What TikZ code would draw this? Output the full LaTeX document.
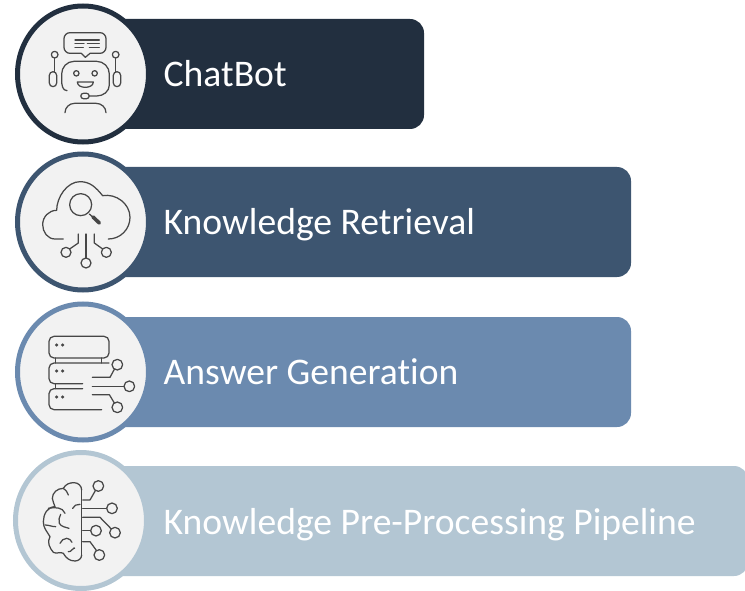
\documentclass[tikz,border=0pt]{standalone}
\usepackage{fontspec}
\setmainfont{Carlito}[Ligatures=NoCommon]
\usetikzlibrary{shapes.geometric}
\definecolor{cA}{HTML}{222F3F}
\definecolor{cB}{HTML}{3D5570}
\definecolor{cC}{HTML}{6B8AAF}
\definecolor{cD}{HTML}{B3C6D3}
\definecolor{iconc}{HTML}{474747}
\tikzset{
  bar/.style={rounded corners=14pt},
  disc/.style={ellipse,draw=#1,fill=black!5,line width=5pt,minimum width=131pt,minimum height=136pt,inner sep=0pt},
  lbl/.style={anchor=base west,text=white,font=\fontsize{37.6pt}{42pt}\selectfont,inner sep=0pt},
  ico/.style={x=0.33333pt,y=-0.33333pt,draw=iconc,line width=1.25pt,line cap=round,line join=round},
  dot/.style={fill=iconc,draw=none}
}
\begin{document}
\begin{tikzpicture}[x=1pt,y=-1pt]
\useasboundingbox (0,0) rectangle (745,591);
\clip (0,0) rectangle (745,591);
% bars
\fill[cA,bar] (80,19) rectangle (424,129);
\fill[cB,bar] (80,167) rectangle (631,277);
\fill[cC,bar] (80,317) rectangle (631,427);
\fill[cD,bar] (80,466) rectangle (748,576);
% discs
\node[disc=cA] (d1) at (83,74) {};
\node[disc=cB] (d2) at (83,222) {};
\node[disc=cC] (d3) at (83,372) {};
\node[disc=cD] (d4) at (81,520.5) {};
% labels
\node[lbl] (t1) at (163.5,87) {ChatBot};
\node[lbl] (t2) at (163.5,234) {Knowledge Retrieval};
\node[lbl] (t3) at (163.5,384) {Answer Generation};
\node[lbl] (t4) at (163.5,534.5) {Knowledge Pre-Processing Pipeline};
% icon 1: robot
\begin{scope}[ico]
\draw (210,98) -- (300,98) to[out=0,in=90] (318,116) -- (318,142) to[out=-90,in=0] (300,160) -- (270,160) -- (256,172) -- (244,160) -- (210,160) to[out=180,in=-90] (192,142) -- (192,116) to[out=90,in=180] (210,98);
\draw (225,120) -- (298,120) (225,131) -- (252,131) (262,131) -- (298,131) (225,142) -- (250,142) (268,142) -- (298,142);
\draw (164,164) circle[radius=10];
\draw (164,174) -- (164,215);
\draw (159,215) to[out=0,in=90] (170,226) -- (170,249) to[out=-90,in=0] (159,260) to[out=180,in=-90] (148,249) -- (148,226) to[out=90,in=180] (159,215);
\draw (347,164) circle[radius=10];
\draw (347,174) -- (347,215);
\draw (351,215) to[out=0,in=90] (362,226) -- (362,249) to[out=-90,in=0] (351,260) to[out=180,in=-90] (340,249) -- (340,226) to[out=90,in=180] (351,215);
\draw (201,272) to[out=180,in=-90] (185,240) -- (185,222) to[out=90,in=180] (222,184) -- (290,184) to[out=0,in=90] (328,222) -- (328,255) to[out=-90,in=0] (290,288) -- (268,288);
\draw (250,280) -- (260,280) to[out=0,in=0,looseness=1.6] (260,296) -- (250,296) to[out=180,in=180,looseness=1.6] (250,280);
\draw (229,220) circle[radius=8];
\draw (284,220) circle[radius=8];
\draw (232,246) -- (280,246) to[out=-90,in=0] (256,262) to[out=180,in=-90] (232,246);
\draw (195,338) to[out=90,in=180] (224,310) -- (288,310) to[out=0,in=90] (318,338);
\end{scope}
% icon 2: cloud
\begin{scope}[shift={(0,148)},ico]
\draw (190,273) -- (165,273) to[out=180,in=-90] (128,230) to[out=90,in=180] (170,187) to[out=90,in=180,looseness=.9] (240,101) to[out=0,in=130] (308,143) to[out=10,in=90] (390,208) to[out=-90,in=0] (325,273);
\draw (242,170) circle[radius=33];
\draw (268,198) -- (278,207);
\draw[line width=3.6pt] (279,207) -- (298,225);
\draw (258,258) -- (258,331);
\draw (258,345) circle[radius=15];
\draw (235,258) -- (235,285) -- (209,303);
\draw (198,313) circle[radius=15];
\draw (283,258) -- (283,285) -- (308,303);
\draw (319,313) circle[radius=15];
\end{scope}
% icon 3: servers
\begin{scope}[shift={(0,298)},ico]
\draw[rounded corners=5pt] (147,115) rectangle (327,180);
\fill[dot] (170,141) circle[radius=5] (188,141) circle[radius=5] (170,219) circle[radius=5] (188,219) circle[radius=5] (170,297) circle[radius=5] (188,297) circle[radius=5];
\draw (167,180) -- (167,195) (305,180) -- (305,195);
\draw[rounded corners=5pt] (327,195) -- (147,195) -- (147,257) -- (248,257);
\draw (167,257) -- (167,272);
\draw[rounded corners=5pt] (248,272) -- (147,272) -- (147,335) -- (305,335);
\draw (277,238) -- (330,238) -- (343,214);
\draw (352,200) circle[radius=16];
\draw (277,265) -- (372,265);
\draw (388,265) circle[radius=16];
\draw (277,290) -- (328,290) -- (343,315);
\draw (352,328) circle[radius=16];
\end{scope}
% icon 4: brain
\begin{scope}[shift={(0,445)},ico]
\draw (245,135) -- (245,330);
\draw (245,135) to[out=90,in=0] (222,113) to[out=180,in=60] (190,130) to[out=180,in=90] (157,160) to[out=-90,in=100] (165,185) to[out=180,in=90] (130,230) to[out=-90,in=120] (150,275) to[out=-120,in=130] (160,322) to[out=-30,in=150] (190,325) to[out=-60,in=180] (225,348) to[out=0,in=-90] (245,330);
\draw (145,190) to[out=10,in=110] (195,205);
\draw (190,130) to[out=-20,in=120] (205,150);
\draw (218,190) to[out=70,in=180] (240,178);
\draw (182,208) to[out=-110,in=110] (178,235) to[out=-60,in=160] (207,250);
\draw (135,240) to[out=0,in=180] (167,245);
\draw (180,295) to[out=60,in=180] (200,280) to[out=0,in=120] (216,292);
\draw (205,320) to[out=-30,in=90] (224,310);
\draw (248,165) -- (270,165) -- (286,137);
\draw (295,123) circle[radius=16];
\draw (248,190) -- (320,190);
\draw (336,190) circle[radius=16];
\draw (248,217) -- (300,217) -- (333,251);
\draw (345,263) circle[radius=16];
\draw (248,257) -- (272,257);
\draw (288,257) circle[radius=16];
\draw (248,290) -- (270,290) -- (289,316);
\draw (298,330) circle[radius=16];
\end{scope}
\end{tikzpicture}
\end{document}
